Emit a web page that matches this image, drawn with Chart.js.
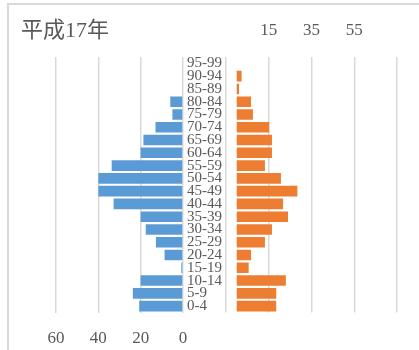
<!DOCTYPE html>
<html>
<head>
<meta charset="utf-8">
<script src="https://cdn.jsdelivr.net/npm/chart.js@4/dist/chart.umd.min.js"></script>
<style>
  html, body { margin: 0; padding: 0; background: #fff; }
  #wrap { position: relative; width: 419px; height: 350px; overflow: hidden; }
  #frame { position: absolute; left: 7px; top: 3px; width: 430px; height: 370px;
           border-left: 2px solid #d9d9d9; border-top: 2px solid #d9d9d9; }
  #title { position: absolute; left: 21px; top: 11px; font-size: 22px; color: #595959;
           font-family: "Liberation Serif", "Noto Sans CJK JP", serif; }
  #left { position: absolute; left: 0; top: 0; }
  #right { position: absolute; left: 187px; top: 0; }
</style>
</head>
<body>
<div id="wrap">
  <div id="frame"></div>
  <canvas id="left" width="187" height="350"></canvas>
  <canvas id="right" width="232" height="350"></canvas>
  <div id="title">平成17年</div>
</div>
<script>
// age groups, top to bottom
var ageGroups = ['95-99', '90-94', '85-89', '80-84', '75-79', '70-74', '65-69', '60-64',
  '55-59', '50-54', '45-49', '40-44', '35-39', '30-34', '25-29', '20-24',
  '15-19', '10-14', '5-9', '0-4'];

// left side (blue)
var maleValues = [0, 0, 0, 6, 5, 13, 18.7, 20, 33.7, 40, 40, 32.8, 20, 17.6, 12.8, 8.7, 0.8, 20, 23.7, 20.7];
// right side (orange)
var femaleValues = [0, 2.3, 1.1, 6.7, 7.6, 15.2, 16.5, 16.5, 13.2, 20.7, 28.4, 21.7, 24, 16.5, 13.2, 6.7, 5.6, 23, 18.5, 18.5];

var leftTicks = [0, 20, 40, 60];
var rightTicks = [15, 35, 55];

var textColor = '#595959';
var gridColor = '#d9d9d9';
var serif = '"Liberation Serif", "Noto Sans CJK JP", serif';

new Chart(document.getElementById('left'), {
  type: 'bar',
  data: {
    labels: ageGroups,
    datasets: [{
      data: maleValues,
      backgroundColor: '#5b9bd5',
      barPercentage: 0.83,
      categoryPercentage: 1
    }]
  },
  options: {
    indexAxis: 'y',
    responsive: false,
    animation: false,
    layout: { padding: { left: 56, right: 4, top: 57, bottom: 0 } },
    plugins: { legend: { display: false }, tooltip: { enabled: false } },
    scales: {
      x: {
        position: 'bottom',
        reverse: true,
        min: 0,
        max: 60,
        afterBuildTicks: function (scale) {
          scale.ticks = leftTicks.map(function (v) { return { value: v }; });
        },
        ticks: { color: textColor, padding: 16, font: { family: serif, size: 17 } },
        grid: { color: gridColor, lineWidth: 1.5, drawTicks: false },
        border: { display: false },
        afterFit: function (scale) { scale.height = 37.5; }
      },
      y: { display: false }
    }
  }
});

new Chart(document.getElementById('right'), {
  type: 'bar',
  data: {
    labels: ageGroups,
    datasets: [{
      data: femaleValues,
      backgroundColor: '#ed7d31',
      barPercentage: 0.83,
      categoryPercentage: 1
    }]
  },
  options: {
    indexAxis: 'y',
    responsive: false,
    animation: false,
    layout: { padding: { left: 0, right: 22, top: 0, bottom: 37.5 } },
    plugins: { legend: { display: false }, tooltip: { enabled: false } },
    scales: {
      x: {
        position: 'top',
        min: -5,
        max: 75,
        ticks: {
          stepSize: 20,
          color: textColor,
          padding: 16,
          font: { family: serif, size: 17 },
          callback: function (v) { return rightTicks.indexOf(v) >= 0 ? v : ''; }
        },
        grid: { color: gridColor, lineWidth: 1.5, drawTicks: false },
        border: { display: false },
        afterFit: function (scale) { scale.height = 57; }
      },
      y: {
        position: 'left',
        ticks: { color: textColor, crossAlign: 'far', padding: 0, autoSkip: false, font: { family: serif, size: 15 } },
        grid: { display: false },
        border: { display: false },
        afterFit: function (scale) { scale.width = 39; }
      }
    }
  }
});
</script>
</body>
</html>
